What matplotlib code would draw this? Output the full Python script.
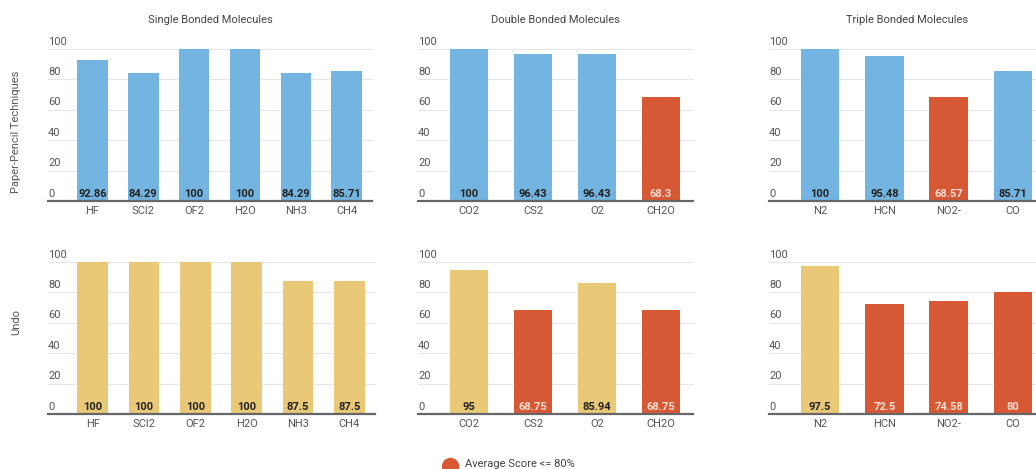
import matplotlib.pyplot as plt
from matplotlib.lines import Line2D
from matplotlib.transforms import offset_copy

plt.rcParams['font.family'] = ['Roboto', 'DejaVu Sans']

W, H = 1036, 469

titles = ['Single Bonded Molecules', 'Double Bonded Molecules', 'Triple Bonded Molecules']
row_labels = ['Paper-Pencil Techniques', 'Undo']

single = ['HF', 'SCl2', 'OF2', 'H2O', 'NH3', 'CH4']
double = ['CO2', 'CS2', 'O2', 'CH2O']
triple = ['N2', 'HCN', 'NO2-', 'CO']

pencil_single = [92.86, 84.29, 100, 100, 84.29, 85.71]
pencil_double = [100, 96.43, 96.43, 68.3]
pencil_triple = [100, 95.48, 68.57, 85.71]

undo_single = [100, 100, 100, 100, 87.5, 87.5]
undo_double = [95, 68.75, 85.94, 68.75]
undo_triple = [97.5, 72.5, 74.58, 80]

threshold = 80
blue = '#74b4e0'
yellow = '#e9c977'
red = '#d75835'

fig = plt.figure(figsize=(W / 100, H / 100), dpi=100)
fig.patch.set_facecolor('white')


def px_axes(left, right, top, bottom):
    return fig.add_axes([left / W, 1 - bottom / H, (right - left) / W, (bottom - top) / H])


def draw_panel(ax, cats, vals, base_color, pad=19):
    n = len(cats)
    width_px = ax.get_position().width * W
    slot = (width_px - pad) / n
    x = list(range(n))
    colors = [red if v <= threshold else base_color for v in vals]
    ax.bar(x, vals, width=0.6, color=colors, zorder=2)
    ax.set_xlim(-0.5 - pad / slot, n - 0.5)
    ax.set_ylim(0, 100)

    for s in ax.spines.values():
        s.set_visible(False)
    ax.axhline(0, color='#666666', lw=1.6, zorder=3, clip_on=False)
    for g in [20, 40, 60, 80, 100]:
        ax.axhline(g, color='#e6e6e6', lw=0.8, zorder=1, clip_on=False)

    ax.set_yticks([])
    ax.set_xticks(x)
    ax.set_xticklabels(cats, fontsize=8, color='#555555')
    ax.tick_params(axis='x', length=0, pad=3.5)

    ytr = offset_copy(ax.get_yaxis_transform(), fig=fig, x=0, y=2.5, units='dots')
    for g in [0, 20, 40, 60, 80, 100]:
        ax.text(0, g, str(g), transform=ytr, ha='left', va='bottom',
                fontsize=8, color='#555555')

    ltr = offset_copy(ax.transData, fig=fig, x=0, y=2.5, units='dots')
    for xi, v, c in zip(x, vals, colors):
        txt = f'{v:g}'
        ax.text(xi, 0, txt, transform=ltr, ha='center', va='bottom',
                fontsize=8, fontweight='bold',
                color='#fbe0d6' if c == red else '#222222', zorder=4)


# column extents in pixels (left, right)
cols_top = [(48, 372), (418, 693), (769, 1045)]
cols_bot = [(48, 375), (418, 693), (769, 1045)]

rows = [
    (49, 201, cols_top, [pencil_single, pencil_double, pencil_triple], blue),
    (262, 414, cols_bot, [undo_single, undo_double, undo_triple], yellow),
]
cats_all = [single, double, triple]

for r, (top, bot, cols, series, col) in enumerate(rows):
    for c, ((l, rr), vals) in enumerate(zip(cols, series)):
        ax = px_axes(l, rr, top, bot)
        draw_panel(ax, cats_all[c], vals, col)
        if r == 0:
            ax.set_title(titles[c], fontsize=8, color='#444444', pad=18.5)

fig.text(16 / W, 1 - 132 / H, row_labels[0], rotation=90, ha='center', va='center',
         fontsize=8, color='#555555')
fig.text(16 / W, 1 - 322 / H, row_labels[1], rotation=90, ha='center', va='center',
         fontsize=8, color='#555555')

# legend entry for the highlighted bars
fig.add_artist(Line2D([450 / W], [1 - 466 / H], marker='o', markersize=11.5,
                      color=red, linestyle='none', transform=fig.transFigure))
fig.text(465 / W, 1 - 464 / H, 'Average Score <= 80%', ha='left', va='center',
         fontsize=8, color='#444444')

fig.savefig('out.png', dpi=100, facecolor='white')
